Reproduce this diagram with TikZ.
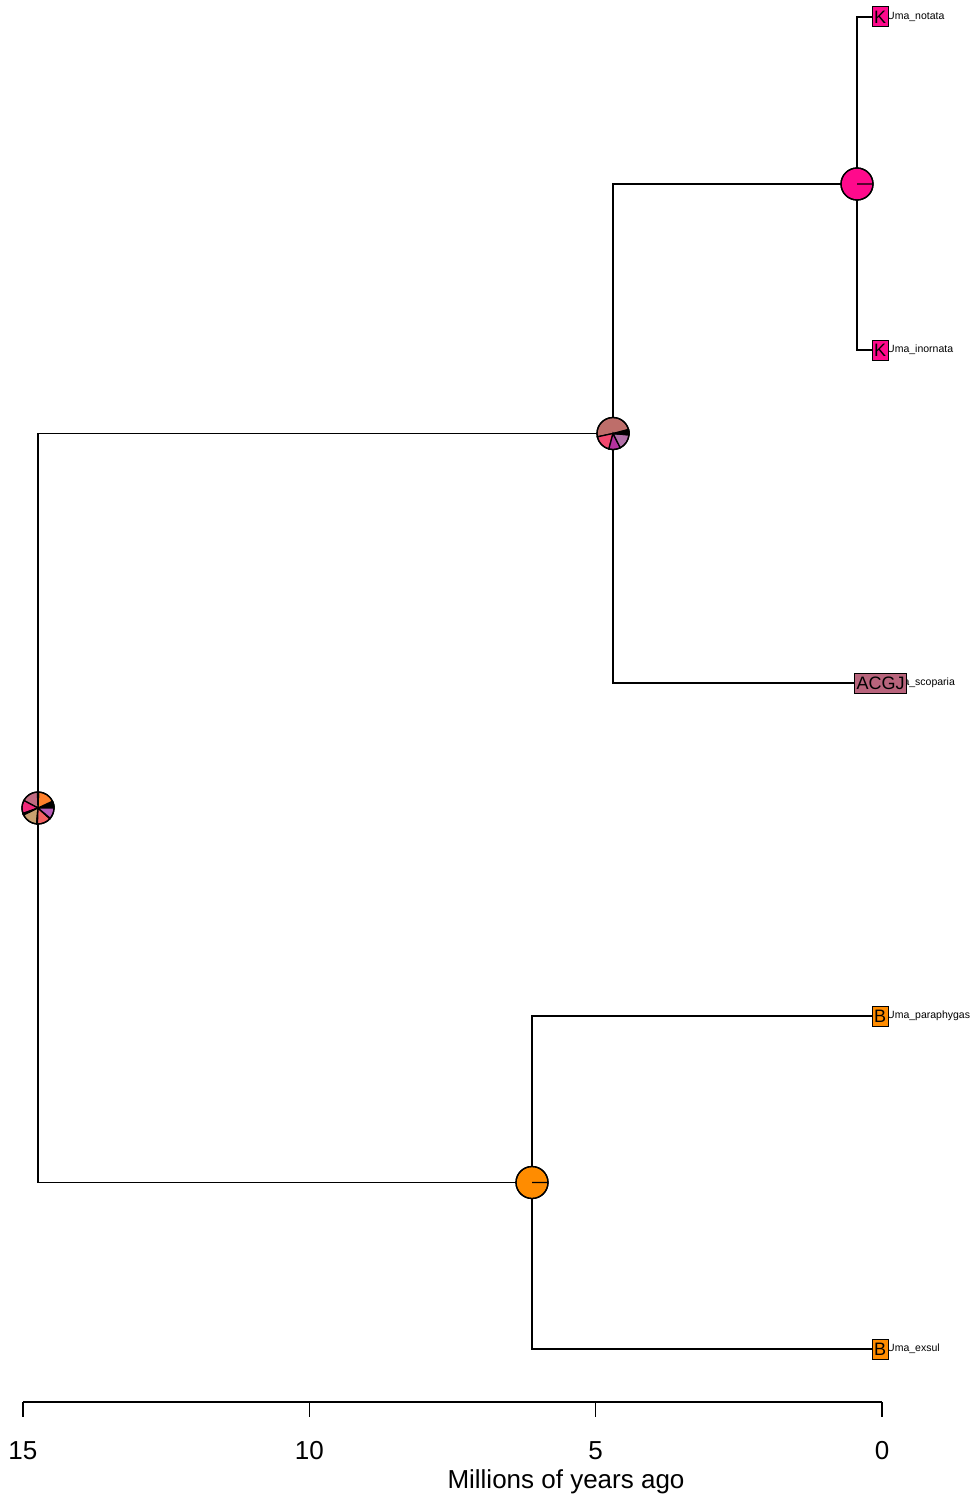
\documentclass[tikz,border=0pt]{standalone}
\usepackage{fontspec}
\setmainfont{Liberation Sans}
\usetikzlibrary{positioning}
\definecolor{kpink}   {HTML}{FF0A8C}
\definecolor{borange} {HTML}{FF8C00}
\definecolor{acgj}    {HTML}{B8647C}
\definecolor{porange} {HTML}{FF7F2A}
\definecolor{prosy}   {HTML}{C06A80}
\definecolor{ppink}   {HTML}{F0287A}
\definecolor{ptan}    {HTML}{C8A070}
\definecolor{psalmon} {HTML}{F26262}
\definecolor{ppurple} {HTML}{B85CB8}
\definecolor{pbrown}  {HTML}{BE6E6A}
\definecolor{pred}    {HTML}{F2486E}
\definecolor{pmagenta}{HTML}{B4329E}
\definecolor{pmauve}  {HTML}{B270A8}
% one slice list per node: start/end/colour
\newcommand{\pieslices}[2]{%
  \foreach \a/\b/\c in {#2}
    \filldraw[pieedge,fill=\c] (#1.center) -- ++(\a:16) arc (\a:\b:16) -- cycle;
  \draw[pieedge] (#1.center) circle (16);}

\begin{document}
\begin{tikzpicture}[x=1pt,y=1pt,
  branch/.style={line width=1.2pt},
  tipbox/.style={draw,line width=1pt,inner xsep=2pt,inner ysep=0pt,
    minimum height=20pt,font=\fontsize{18}{18}\selectfont},
  tiplab/.style={anchor=west,inner sep=0pt,font=\fontsize{10.5}{12}\selectfont},
  pienode/.style={circle,minimum size=32pt,inner sep=0pt},
  pieedge/.style={line width=1.3pt},
  ticklab/.style={font=\fontsize{26}{30}\selectfont}]
  \useasboundingbox (0,0) rectangle (976,-1498);

  % tip labels, boxes on top of them
  \foreach \nm/\txt/\y in {notata/Uma\_notata/16.5, inornata/Uma\_inornata/349.5,
      scoparia/Uma\_scoparia/682.5, paraphygas/Uma\_paraphygas/1015.5, exsul/Uma\_exsul/1348.5}
    \node[tiplab] (\nm L) at (887,-\y) {\txt};
  \node[tipbox,fill=kpink]   (notata)     at (880,-17)   {K};
  \node[tipbox,fill=kpink]   (inornata)   at (880,-350)  {K};
  \node[tipbox,fill=acgj]    (scoparia)   at (880.5,-683){ACGJ};
  \node[tipbox,fill=borange] (paraphygas) at (880,-1016) {B};
  \node[tipbox,fill=borange] (exsul)      at (880,-1349) {B};

  % internal nodes
  \node[pienode] (root) at (38,-808)  {};
  \node[pienode] (nA)   at (613,-433.5) {};
  \node[pienode] (nUma) at (857,-184) {};
  \node[pienode] (nB)   at (532,-1182.5){};

  % branches
  \draw[branch] (root.center) |- (nA.center);
  \draw[branch] (root.center) |- (nB.center);
  \draw[branch] (nA.center) |- (nUma.center);
  \draw[branch] (nA.center) |- (scoparia);
  \draw[branch] (nUma.center) |- (notata);
  \draw[branch] (nUma.center) |- (inornata);
  \draw[branch] (nB.center) |- (paraphygas);
  \draw[branch] (nB.center) |- (exsul);

  % ancestral state pies
  \pieslices{root}{0/5/ppink, 5/10/porange, 10/15/psalmon, 15/20/ppurple, 20/25/ptan,
    25/88/porange, 88/92/pred, 92/152/prosy, 152/200/ppink, 200/203/pmagenta,
    203/206/pred, 206/265/ptan, 265/268/pmauve, 268/318/psalmon, 318/320/pred,
    320/360/ppurple}
  \pieslices{nA}{0/3/ppink, 3/6/porange, 6/9/psalmon, 9/12/ppurple, 12/15/pred,
    15/192/pbrown, 192/255/pred, 255/297/pmagenta, 297/355/pmauve, 355/357/ptan,
    357/360/ppink}
  \pieslices{nUma}{0/360/kpink}
  \pieslices{nB}{0/360/borange}

  % time axis
  \coordinate (ax15) at (23,-1402);
  \coordinate (ax0)  at (882,-1402);
  \draw[line width=1.2pt] (ax15) -- (ax0);
  \foreach \v in {0,5,10,15}{
    \coordinate (t\v) at (882-\v*57.27,-1402);
    \coordinate (b\v) at (882-\v*57.27,-1417);
    \draw[line width=1.2pt] (t\v) -- (b\v);
    \node[ticklab] (lab\v) at (882-\v*57.27,-1451) {\v};}
  \node[ticklab] (axtitle) at (566,-1482) {Millions of years ago};
\end{tikzpicture}
\end{document}
